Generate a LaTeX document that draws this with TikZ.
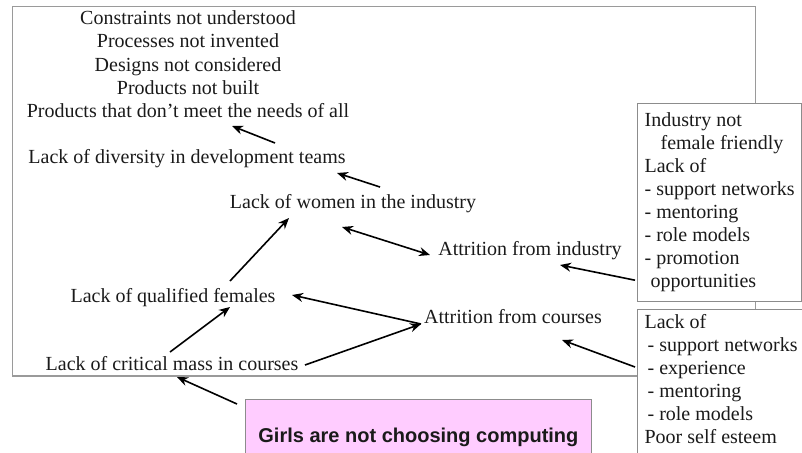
\documentclass[tikz,border=0pt]{standalone}
\usepackage{fontspec}
\setmainfont{Liberation Serif}
\newfontfamily\girlsfont{Liberation Sans}
\usepackage{tikz}
\usetikzlibrary{arrows.meta}
\definecolor{framegray}{HTML}{9A9A9A}
\definecolor{boxgray}{HTML}{8C8C8C}
\definecolor{girlspink}{HTML}{FFCCFF}
\definecolor{inkblack}{HTML}{1A1A1A}

\begin{document}
\begin{tikzpicture}[x=1pt,y=-1pt,
  lbl/.style={font=\fontsize{20}{23}\selectfont,text=inkblack,inner sep=1pt,text height=14pt,text depth=4pt},
  sidebox/.style={draw=boxgray,line width=1.2pt,fill=white,anchor=north west,align=left,minimum width=163pt,inner xsep=7pt,font=\fontsize{20}{23}\selectfont,text=inkblack},
  arr/.style={line width=1.6pt,-{Stealth[length=11pt,width=9pt]}},
  arrb/.style={line width=1.6pt,{Stealth[length=11pt,width=9pt]}-{Stealth[length=11pt,width=9pt]}}]
\useasboundingbox (0,0) rectangle (802,452);
\clip (0,0) rectangle (802,452);
\draw[framegray,line width=1.3pt] (12.5,6.5) rectangle (755.5,376);
% effects
\node[lbl] (cons) at (188,20) {Constraints not understood};
\node[lbl] (proc) at (188,43) {Processes not invented};
\node[lbl] (desg) at (188,66) {Designs not considered};
\node[lbl] (prod) at (188,89) {Products not built};
\node[lbl] (needs) at (188,112) {Products that don’t meet the needs of all};
% causes
\node[lbl] (div) at (187,158) {Lack of diversity in development teams};
\node[lbl] (women) at (353,203) {Lack of women in the industry};
\node[lbl] (attind) at (530,250) {Attrition from industry};
\node[lbl] (qual) at (173,297) {Lack of qualified females};
\node[lbl] (attcrs) at (513,318) {Attrition from courses};
\node[lbl] (crit) at (172,365) {Lack of critical mass in courses};
% side boxes
\node[sidebox,minimum height=198pt] (indbox) at (637,103) {Industry not\\
  \hspace*{0.8em}female friendly\\
  Lack of\\
  - support networks\\
  - mentoring\\
  - role models\\
  - promotion\\
  \hspace*{0.3em}opportunities};
\node[sidebox,inner ysep=5pt,text depth=30pt] (crsbox) at (637,309) {Lack of\\
  \hspace*{0.15em}- support networks\\
  \hspace*{0.15em}- experience\\
  \hspace*{0.15em}- mentoring\\
  \hspace*{0.15em}- role models\\
  Poor self esteem};
\node[draw=boxgray,line width=0.8pt,fill=girlspink,anchor=north west,minimum width=346pt,minimum height=76pt,
  font=\girlsfont\bfseries\fontsize{20}{24}\selectfont,text=inkblack] (girls) at (245,399) {Girls are not choosing computing};
% connectors
\draw[arr] ([xshift=88pt,yshift=15pt]div.center) -- ([xshift=44pt,yshift=-14pt]needs.center);
\draw[arr] ([xshift=27pt,yshift=16pt]women.center) -- ([xshift=150pt,yshift=-15pt]div.center);
\draw[arr] ([xshift=57pt,yshift=16pt]qual.center) -- ([xshift=-64pt,yshift=-15pt]women.center);
\draw[arrb] ([xshift=-11pt,yshift=-24pt]women.center) -- ([xshift=-100pt,yshift=-5pt]attind.center);
\draw[arr] ([xshift=-2pt,yshift=22pt]indbox.south west) -- ([xshift=30pt,yshift=-15pt]attind.center);
\draw[arr] ([xshift=-92pt,yshift=-6pt]attcrs.center) -- ([xshift=119pt,yshift=2pt]qual.center);
\draw[arr] ([xshift=-2pt,yshift=-58pt]crsbox.north west) -- ([xshift=49pt,yshift=-22pt]attcrs.center);
\draw[arr] ([xshift=-2pt,yshift=13pt]crit.center) -- ([xshift=57pt,yshift=-10pt]qual.center);
\draw[arr] ([xshift=133pt]crit.center) -- ([xshift=-92pt,yshift=-6pt]attcrs.center);
\draw[arr] ([xshift=-8pt,yshift=-5pt]girls.north west) -- ([xshift=5pt,yshift=-12pt]crit.center);
\end{tikzpicture}
\end{document}
